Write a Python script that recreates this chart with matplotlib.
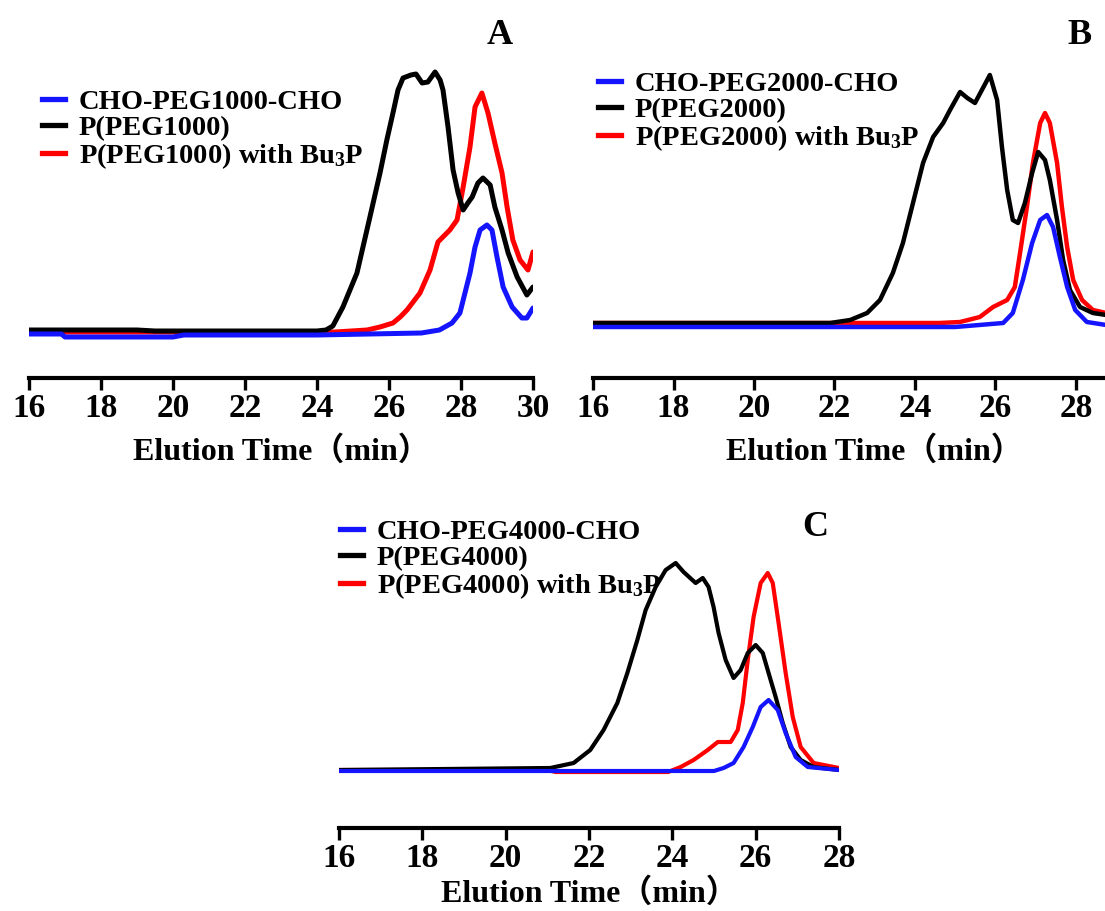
import matplotlib.pyplot as plt
from matplotlib.lines import Line2D

plt.rcParams['font.family'] = ['Liberation Serif', 'Noto Sans CJK SC']
plt.rcParams['font.weight'] = 'bold'
plt.rcParams['axes.labelweight'] = 'bold'
plt.rcParams['mathtext.fontset'] = 'custom'
plt.rcParams['mathtext.rm'] = 'Liberation Serif:bold'
plt.rcParams['mathtext.default'] = 'rm'

BLUE = '#1414ff'
BLACK = '#000000'
RED = '#ff0000'

# ---- A: PEG1000 (elution time in min, detector signal in a.u.)
a_blue_t = [16.0, 16.9, 17.0, 20.0, 20.3, 24.0, 26.9, 27.4, 27.75, 27.97, 28.11, 28.25,
            28.39, 28.53, 28.72, 28.86, 29.0, 29.17, 29.42, 29.69, 29.83, 30.0]
a_blue_i = [44, 44, 41, 41, 43, 43, 45, 48, 55, 65, 85, 105,
            131, 148, 153, 148, 121, 91, 71, 60, 60, 70]

a_black_t = [16.0, 19.0, 19.5, 24.0, 24.25, 24.44, 24.72, 25.11, 25.47, 25.75, 25.94,
             26.11, 26.25, 26.39, 26.61, 26.75, 26.92, 27.08, 27.28, 27.42, 27.5, 27.64,
             27.78, 27.92, 28.06, 28.19, 28.31, 28.47, 28.61, 28.81, 28.94, 29.14, 29.31,
             29.56, 29.83, 30.0]
a_black_i = [48, 48, 47, 47, 48, 52, 71, 105, 161, 205, 238,
             265, 288, 300, 303, 304, 295, 296, 306, 298, 288, 251,
             208, 185, 168, 175, 181, 195, 200, 193, 171, 148, 125,
             101, 83, 91]

a_red_t = [16.0, 24.5, 25.39, 25.75, 26.11, 26.31, 26.5, 26.86, 27.14, 27.36, 27.69,
           27.89, 28.06, 28.25, 28.39, 28.58, 28.75, 28.94, 29.14, 29.28, 29.44, 29.64,
           29.86, 30.0]
a_red_i = [46, 46, 48, 51, 55, 61, 68, 85, 108, 136, 148,
           158, 191, 231, 271, 285, 265, 235, 205, 171, 138, 118,
           108, 126]

# ---- B: PEG2000
b_blue_t = [16.0, 25.0, 26.19, 26.43, 26.68, 26.91, 27.11, 27.28, 27.43, 27.6, 27.78,
            27.98, 28.27, 28.75]
b_blue_i = [51, 51, 55, 65, 98, 135, 158, 163, 151, 121, 91,
            68, 56, 53]

b_black_t = [16.0, 21.89, 22.39, 22.81, 23.13, 23.45, 23.7, 23.95, 24.2, 24.45, 24.7,
             24.87, 25.12, 25.3, 25.49, 25.86, 26.04, 26.16, 26.29, 26.43, 26.56, 26.73,
             26.91, 27.06, 27.23, 27.35, 27.53, 27.68, 27.85, 28.1, 28.42, 28.75]
b_black_i = [55, 55, 58, 65, 78, 105, 135, 175, 215, 241, 255,
             268, 286, 280, 275, 303, 278, 231, 188, 158, 155, 175,
             205, 226, 218, 198, 158, 118, 88, 71, 65, 63]

b_red_t = [16.0, 24.6, 25.12, 25.61, 25.94, 26.29, 26.48, 26.61, 26.78, 26.93, 27.11,
           27.23, 27.35, 27.53, 27.65, 27.78, 27.93, 28.15, 28.42, 28.75]
b_red_i = [55, 55, 56, 61, 71, 78, 91, 125, 171, 215, 255,
           265, 255, 215, 171, 131, 98, 78, 68, 65]

# ---- C: PEG4000
c_blue_t = [16.0, 25.0, 25.23, 25.47, 25.71, 25.93, 26.12, 26.31, 26.53, 26.72, 26.96,
            27.25, 28.0]
c_blue_i = [57, 57, 60, 65, 81, 101, 121, 128, 118, 95, 71,
            61, 58]

c_black_t = [16.0, 21.07, 21.63, 22.03, 22.35, 22.68, 22.92, 23.16, 23.36, 23.6, 23.84,
             24.08, 24.27, 24.56, 24.73, 24.87, 24.99, 25.11, 25.28, 25.47, 25.64, 25.81,
             26.0, 26.17, 26.31, 26.48, 26.65, 26.84, 27.08, 27.39, 28.0]
c_black_i = [58, 60, 65, 78, 98, 125, 155, 188, 218, 241, 258,
             265, 256, 245, 250, 241, 221, 195, 168, 150, 158, 175,
             183, 175, 155, 131, 105, 81, 68, 61, 58]

c_red_t = [16.0, 21.0, 21.2, 23.9, 24.2, 24.51, 24.85, 25.09, 25.4, 25.57, 25.69,
           25.81, 25.95, 26.12, 26.29, 26.41, 26.55, 26.72, 26.89, 27.08, 27.39, 28.0]
c_red_i = [58, 58, 56, 56, 61, 68, 78, 86, 86, 98, 125,
           168, 211, 245, 255, 245, 205, 155, 111, 81, 65, 60]

W, H = 1105, 911
fig = plt.figure(figsize=(W / 100, H / 100), dpi=100)


def make_axes(x0, x_end, y_axis, t_max, last_tick, labelpad):
    # x0/x_end are pixel positions of t=16 and t=t_max, y_axis is the axis line row
    left = x0 / W
    width = (x_end - x0) / W
    bottom = 1 - y_axis / H
    ax = fig.add_axes([left, bottom, width, 318 / H])
    ax.set_xlim(16, t_max)
    ax.set_ylim(0, 318)
    ax.set_xticks(range(16, last_tick + 1, 2))
    for side in ('left', 'top', 'right'):
        ax.spines[side].set_visible(False)
    ax.spines['bottom'].set_linewidth(3)
    ax.yaxis.set_visible(False)
    ax.tick_params(axis='x', direction='out', length=8.5, width=2.4, labelsize=24, pad=2)
    ax.set_xlabel('Elution Time（min）', fontsize=23, fontweight='bold', labelpad=labelpad)
    ax.patch.set_alpha(0)
    return ax


def draw(ax, series, lw, labels, legend_xy):
    for t, i, c in series:
        ax.plot(t, i, color=c, lw=lw, solid_joinstyle='round', solid_capstyle='round')
    handles = [Line2D([], [], color=c, lw=3.8) for c in (BLUE, BLACK, RED)]
    ax.legend(handles, labels, loc='upper left',
              bbox_to_anchor=(legend_xy[0] / W, 1 - legend_xy[1] / H),
              bbox_transform=fig.transFigure, frameon=False, fontsize=20.5,
              handlelength=0.8, handletextpad=0.5, labelspacing=0.0,
              borderpad=0, borderaxespad=0)


ax_a = make_axes(29, 533, 378, 30, 30, 9)
draw(ax_a, [(a_red_t, a_red_i, RED), (a_black_t, a_black_i, BLACK),
            (a_blue_t, a_blue_i, BLUE)], 3.6,
     ['CHO-PEG1000-CHO', 'P(PEG1000)', 'P(PEG1000) with Bu$_3$P'], (42, 89))
fig.text(500 / W, 1 - 35 / H, 'A', fontsize=26, ha='center', va='center')

ax_b = make_axes(593, 593 + 14 * 40.25, 378, 30, 28, 9)
draw(ax_b, [(b_red_t, b_red_i, RED), (b_black_t, b_black_i, BLACK),
            (b_blue_t, b_blue_i, BLUE)], 3.2,
     ['CHO-PEG2000-CHO', 'P(PEG2000)', 'P(PEG2000) with Bu$_3$P'], (598, 71))
fig.text(1080 / W, 1 - 36 / H, 'B', fontsize=26, ha='center', va='center')

ax_c = make_axes(339, 839, 828, 28, 28, 3)
draw(ax_c, [(c_red_t, c_red_i, RED), (c_black_t, c_black_i, BLACK),
            (c_blue_t, c_blue_i, BLUE)], 3.0,
     ['CHO-PEG4000-CHO', 'P(PEG4000)', 'P(PEG4000) with Bu$_3$P'], (340, 519))
fig.text(815 / W, 1 - 528 / H, 'C', fontsize=26, ha='center', va='center')

fig.savefig('out.png', dpi=100)
